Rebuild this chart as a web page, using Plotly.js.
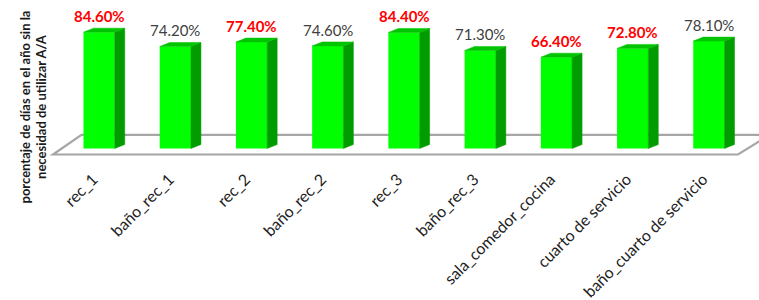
<!DOCTYPE html>
<html>
<head>
<meta charset="utf-8">
<script src="https://cdn.plot.ly/plotly-3.0.1.min.js"></script>
<style>html,body{margin:0;padding:0;background:#fff;}#chart{width:759px;height:300px;}</style>
</head>
<body>
<div id="chart"></div>
<script>
const categories = ["rec_1","baño_rec_1","rec_2","baño_rec_2","rec_3","baño_rec_3","sala_comedor_cocina","cuarto de servicio","baño_cuarto de servicio"];
const values = [84.6, 74.2, 77.4, 74.6, 84.4, 71.3, 66.4, 72.8, 78.1];
const highlighted = [true, false, true, false, true, false, true, true, false];
const yTitle = "porcentaje de días en el año sin la<br>necesidad de utilizar A/A";

const W = 759, H = 300;
const mL = 61, mR = 12, mT = 11, mB = 144;
const plotW = W - mL - mR, plotH = H - mT - mB;
const yMin = -5.45, yMax = 100;
const pxPerCat = plotW / categories.length;
const pxPerUnit = plotH / (yMax - yMin);

const barW = 0.41;
const depthX = 10 / pxPerCat;
const depthY = 4 / pxPerUnit;

const xs = categories.map((c, i) => i);

// side and top faces
const sideX = [], sideY = [], topX = [], topY = [];
xs.forEach((x, i) => {
  const v = values[i];
  const r = x + barW / 2, l = x - barW / 2;
  sideX.push(r, r + depthX, r + depthX, r, r, null);
  sideY.push(0, depthY, v + depthY, v, 0, null);
  topX.push(l, r, r + depthX, l + depthX, l, null);
  topY.push(v, v, v + depthY, v + depthY, v, null);
});

const traces = [
  {type: 'scatter', x: sideX, y: sideY, mode: 'lines', fill: 'toself', fillcolor: '#009C00',
   line: {width: 0.5, color: '#009C00'}, hoverinfo: 'skip', showlegend: false},
  {type: 'bar', x: xs, y: values, width: barW, marker: {color: '#00FF00', line: {width: 0}},
   hoverinfo: 'skip', showlegend: false},
  {type: 'scatter', x: topX, y: topY, mode: 'lines', fill: 'toself', fillcolor: '#00C400',
   line: {width: 0.5, color: '#00C400'}, hoverinfo: 'skip', showlegend: false}
];

const px2x = p => (p - mL) / plotW;
const py2y = p => (H - mB - p) / plotH;

const floorPts = [[53, 154.5], [81.5, 134.8], [770, 134.8], [738, 154.5]];
const floorPath = 'M' + floorPts.map(p => px2x(p[0]).toFixed(5) + ',' + py2y(p[1]).toFixed(5)).join(' L') + ' Z';

const annotations = xs.map((x, i) => ({
  x: x, y: values[i], xref: 'x', yref: 'y', showarrow: false,
  text: values[i].toFixed(2) + '%', yanchor: 'middle', yshift: 16,
  font: {family: 'Lato, sans-serif', size: 15, color: highlighted[i] ? '#FF0000' : '#404040',
         weight: highlighted[i] ? 'bold' : 'normal'}
}));
annotations.push({
  xref: 'paper', yref: 'paper', x: px2x(32.5), y: py2y(107), showarrow: false,
  text: yTitle, textangle: -90, xanchor: 'center', yanchor: 'middle',
  font: {family: 'Lato, sans-serif', size: 13, color: '#1a1a1a', weight: 'bold'}
});

const layout = {
  width: W, height: H,
  margin: {l: mL, r: mR, t: mT, b: mB, pad: 0},
  paper_bgcolor: '#ffffff', plot_bgcolor: 'rgba(0,0,0,0)',
  showlegend: false,
  xaxis: {range: [-0.5, categories.length - 0.5], tickvals: xs, ticktext: categories,
          tickangle: -45, showgrid: false, zeroline: false, showline: false, ticks: '',
          ticklabelstandoff: 10, ticklabelshift: -6,
          tickfont: {family: 'Lato, sans-serif', size: 16, color: '#222222'}, fixedrange: true},
  yaxis: {range: [yMin, yMax], showgrid: false, zeroline: false, showline: false,
          showticklabels: false, ticks: '', fixedrange: true},
  shapes: [{type: 'path', xref: 'paper', yref: 'paper', path: floorPath, layer: 'below',
            fillcolor: '#ffffff', line: {color: '#a6a6a6', width: 2.2}}],
  annotations: annotations
};

Plotly.newPlot('chart', traces, layout, {displayModeBar: false, staticPlot: true});
</script>
</body>
</html>
